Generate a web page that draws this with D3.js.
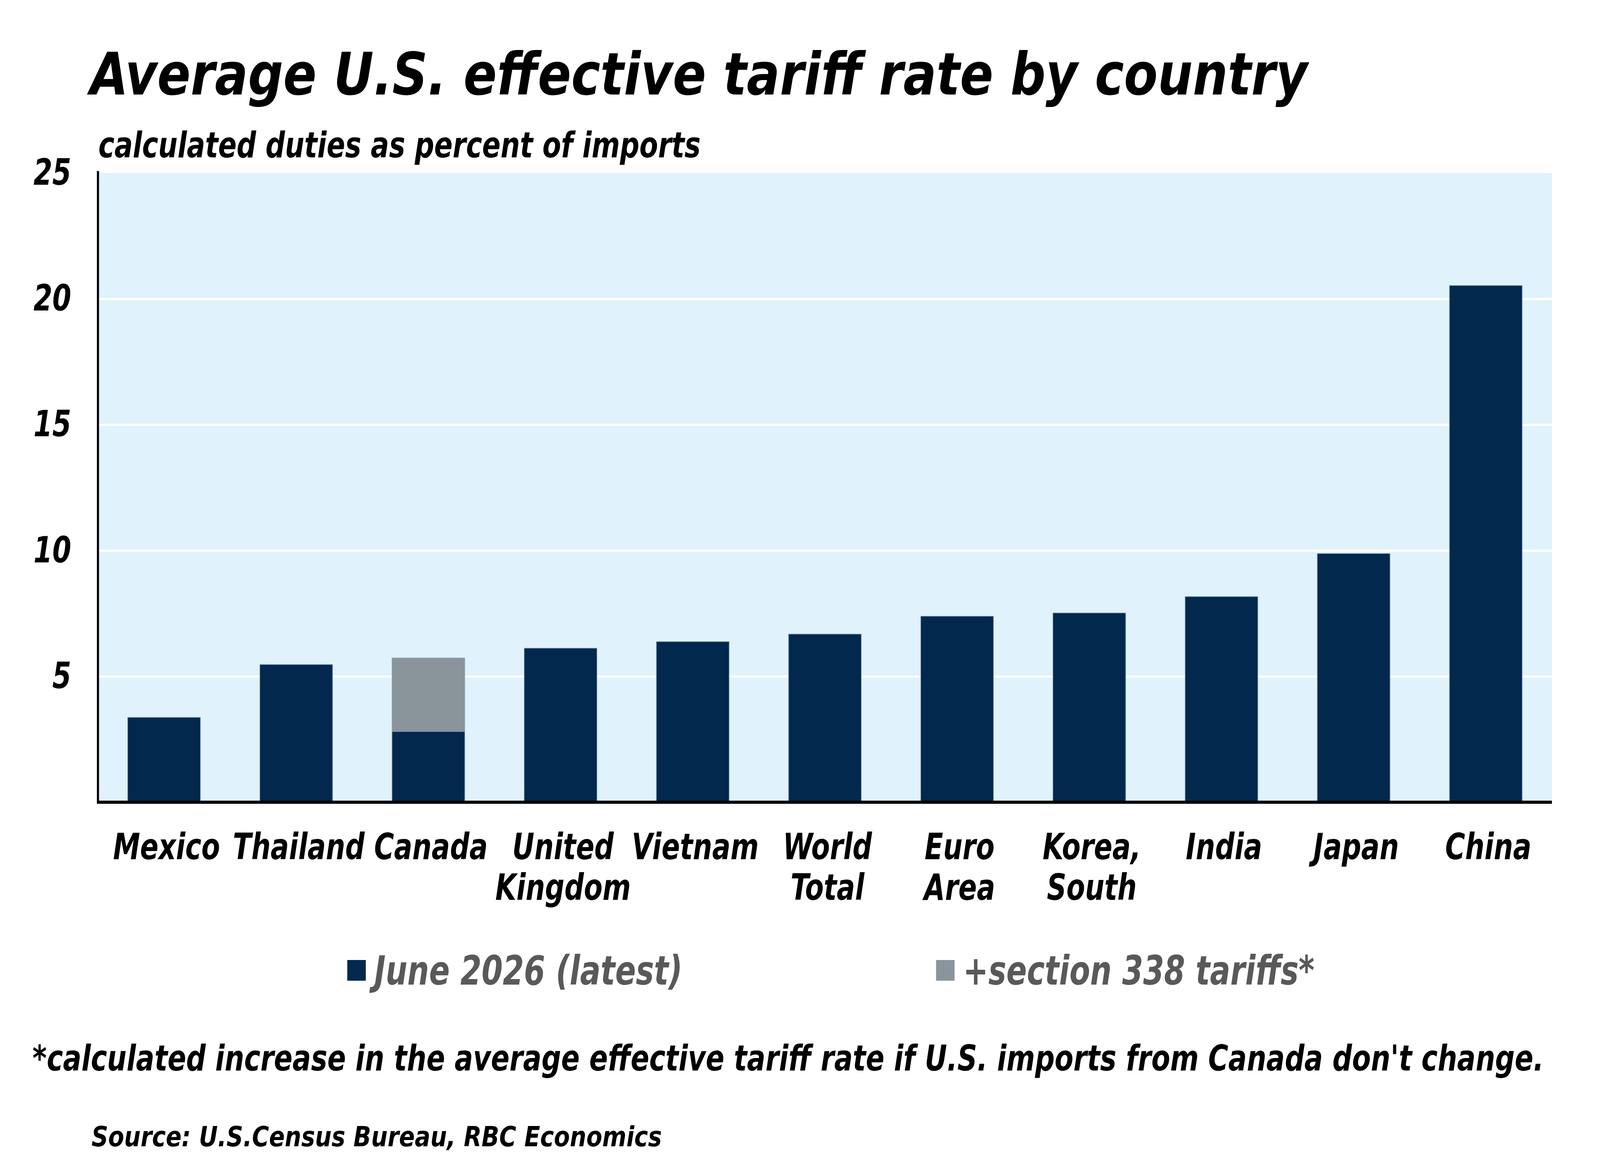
<!DOCTYPE html>
<html>
<head>
<meta charset="utf-8">
<script src="https://cdn.jsdelivr.net/npm/d3@7"></script>
<style>
  html, body { margin: 0; padding: 0; background: #fff; width: 100%; height: 100%; overflow: hidden; }
  svg { display: block; width: 100vw; height: 100vh; }
  text { font-family: "DejaVu Sans Condensed", "DejaVu Sans", sans-serif; font-weight: bold; font-style: italic; }
</style>
</head>
<body>
<script>
// data
var categories = ["Mexico", "Thailand", "Canada", "United Kingdom", "Vietnam", "World Total",
                  "Euro Area", "Korea, South", "India", "Japan", "China"];
var june2026 = [3.37, 5.47, 2.81, 6.12, 6.38, 6.68, 7.39, 7.52, 8.17, 9.88, 20.53];
var section338 = [0, 0, 2.92, 0, 0, 0, 0, 0, 0, 0, 0];
var yTicks = [5, 10, 15, 20, 25];
var seriesNames = ["June 2026 (latest)", "+section 338 tariffs*"];
var seriesColors = ["#02284d", "#8a949b"];

var W = 4492, H = 2988;
var plot = {left: 275, right: 4357, top: 443, bottom: 2054};

// drawn in a fixed 4492x2988 box and stretched to whatever the window is
var svg = d3.select("body").append("svg")
    .attr("viewBox", "0 0 " + W + " " + H)
    .attr("preserveAspectRatio", "none");

// the installed fonts are wider than the original one, so texts get squeezed
// horizontally around their anchor point
function scaleText(node, sx) {
    var t = d3.select(node);
    var tx = +t.attr("x") || 0, ty = +t.attr("y") || 0;
    t.attr("x", 0).attr("y", 0)
     .attr("transform", "translate(" + tx + "," + ty + ") scale(" + sx + ",1)");
}
function fit(sel, w) {
    sel.each(function() { scaleText(this, w / this.getComputedTextLength()); });
}
function squeeze(sel, k) {
    sel.each(function() { scaleText(this, k); });
}

//title
var title = svg.append("text")
    .attr("x", 253).attr("y", 242)
    .attr("font-size", 150)
    .attr("fill", "#000")
    .text("Average U.S. effective tariff rate by country");
var k = 3418 / title.node().getComputedTextLength();
fit(title, 3418);
var kLabel = k * 0.9;

svg.append("text")
    .attr("x", 276).attr("y", 403)
    .attr("font-size", 90)
    .text("calculated duties as percent of imports")
    .call(fit, 1691);

var x = d3.scaleBand()
    .domain(categories)
    .range([plot.left, plot.right])
    .paddingInner(0.45)
    .paddingOuter(0.225);

var y = d3.scaleLinear()
    .domain([0, 25])
    .range([plot.bottom, plot.top]);

// plot background
svg.append("rect")
    .attr("x", plot.left).attr("y", plot.top)
    .attr("width", plot.right - plot.left)
    .attr("height", plot.bottom - plot.top)
    .attr("fill", "#e0f2fc");

// gridlines
var grid = svg.append("g")
    .attr("transform", "translate(" + plot.left + ",0)")
    .call(d3.axisLeft(y).tickValues(yTicks.filter(function(d) { return d < 25; }))
            .tickSize(-(plot.right - plot.left)).tickFormat(""));
grid.select(".domain").remove();
grid.selectAll(".tick line").attr("stroke", "#fff").attr("stroke-width", 6);

// stacked bars
var rows = categories.map(function(c, i) {
    return {country: c, june: june2026[i], s338: section338[i]};
});
var stack = d3.stack().keys(["june", "s338"])(rows);

svg.append("g").selectAll("g")
    .data(stack)
    .join("g")
    .attr("fill", function(d, i) { return seriesColors[i]; })
    .selectAll("rect")
    .data(function(d) { return d.filter(function(p) { return p[1] > p[0]; }); })
    .join("rect")
    .attr("x", function(d) { return x(d.data.country); })
    .attr("width", x.bandwidth())
    .attr("y", function(d) { return y(d[1]); })
    .attr("height", function(d) { return y(d[0]) - y(d[1]); })
    .attr("stroke", "#7f9bb3")
    .attr("stroke-width", 2)
    .attr("stroke-opacity", 0.6);

// y axis
var yAxis = svg.append("g")
    .attr("transform", "translate(" + plot.left + ",0)")
    .call(d3.axisLeft(y).tickValues(yTicks).tickSize(0).tickPadding(75).tickSizeOuter(0));
yAxis.select(".domain")
    .attr("stroke", "#000").attr("stroke-width", 6)
    .attr("d", "M0," + (plot.top - 5) + "V" + (plot.bottom + 4));
yAxis.selectAll(".tick text")
    .attr("font-size", 92)
    .attr("font-family", null)
    .attr("fill", "#000")
    .call(squeeze, kLabel);

// x axis
var xAxis = svg.append("g")
    .attr("transform", "translate(0," + plot.bottom + ")")
    .call(d3.axisBottom(x).tickSize(0).tickSizeOuter(0).tickFormat(""));
xAxis.select(".domain")
    .attr("stroke", "#000").attr("stroke-width", 8)
    .attr("d", "M" + (plot.left - 3) + ",0H" + plot.right);

// category labels, one text per line
var labels = svg.append("g").selectAll("g")
    .data(categories)
    .join("g")
    .attr("transform", function(d) {
        return "translate(" + (x(d) + x.bandwidth() / 2 + 7) + ",0)";
    });
labels.selectAll("text")
    .data(function(d) { return d.split(" "); })
    .join("text")
    .attr("y", function(d, i) { return 2200 + i * 104; })
    .attr("text-anchor", "middle")
    .attr("font-size", 92)
    .attr("fill", "#000")
    .text(function(d) { return d; })
    .call(squeeze, kLabel);

// legend
var legendX = [975, 2628];
var legendW = [865, 986];
var legend = svg.append("g").selectAll("g")
    .data(seriesNames)
    .join("g")
    .attr("transform", function(d, i) { return "translate(" + legendX[i] + ",0)"; });
legend.append("rect")
    .attr("x", 0).attr("y", 2458)
    .attr("width", 52).attr("height", 53)
    .attr("fill", function(d, i) { return seriesColors[i]; });
legend.append("text")
    .attr("x", 76).attr("y", 2521)
    .attr("font-size", 103)
    .attr("fill", "#595959")
    .text(function(d) { return d; })
    .each(function(d, i) { fit(d3.select(this), legendW[i]); });

// footnote and source
svg.append("text")
    .attr("x", 91).attr("y", 2741)
    .attr("font-size", 90)
    .text("*calculated increase in the average effective tariff rate if U.S. imports from Canada don't change.")
    .call(fit, 4243);

svg.append("text")
    .attr("x", 257).attr("y", 2935)
    .attr("font-size", 72)
    .text("Source: U.S.Census Bureau, RBC Economics")
    .call(fit, 1601);
</script>
</body>
</html>
